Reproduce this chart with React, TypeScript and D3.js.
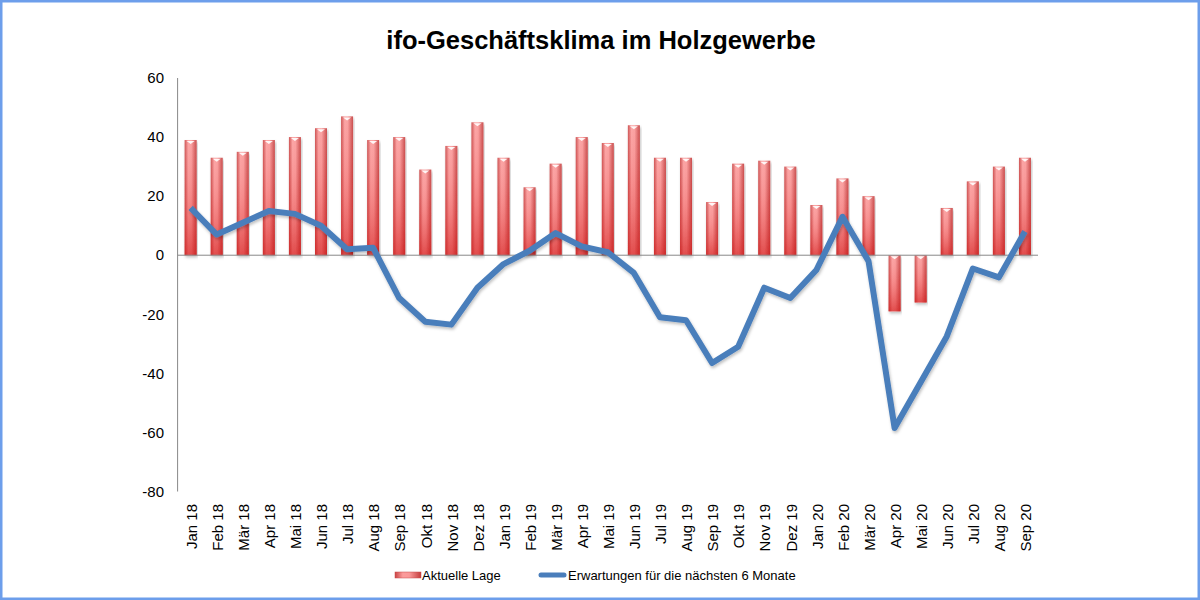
import * as d3 from 'd3';
import React, { useEffect } from 'react';

const months = [
  'Jan 18', 'Feb 18', 'Mär 18', 'Apr 18', 'Mai 18', 'Jun 18', 'Jul 18', 'Aug 18', 'Sep 18', 'Okt 18', 'Nov 18', 'Dez 18',
  'Jan 19', 'Feb 19', 'Mär 19', 'Apr 19', 'Mai 19', 'Jun 19', 'Jul 19', 'Aug 19', 'Sep 19', 'Okt 19', 'Nov 19', 'Dez 19',
  'Jan 20', 'Feb 20', 'Mär 20', 'Apr 20', 'Mai 20', 'Jun 20', 'Jul 20', 'Aug 20', 'Sep 20',
];

// Aktuelle Lage (bars)
const lage = [
  39, 33, 35, 39, 40, 43, 47, 39, 40, 29, 37, 45,
  33, 23, 31, 40, 38, 44, 33, 33, 18, 31, 32, 30,
  17, 26, 20, -19, -16, 16, 25, 30, 33,
];

// Erwartungen für die nächsten 6 Monate (line)
const erwartungen = [
  16, 7, 11, 15, 14, 10, 2, 2.5, -14.5, -22.5, -23.5, -11,
  -3, 1.5, 7.5, 3, 1, -6, -21, -22, -36.5, -31, -11, -14.5,
  -5, 13, -2, -58.5, -43, -27.5, -4.5, -7.5, 8,
];

const yTicks = [60, 40, 20, 0, -20, -40, -60, -80];

const title = 'ifo-Geschäftsklima im Holzgewerbe';
const legendLabels = ['Aktuelle Lage', 'Erwartungen für die nächsten 6 Monate'];

export default function App() {
  const ref = React.useRef<SVGSVGElement>(null);

  useEffect(() => {
    if (!ref.current) return;
    const svg = d3.select(ref.current);
    svg.selectAll('*').remove();

    const width = 1200;
    const height = 600;
    const font = 'Liberation Sans, Arial, sans-serif';

    const x = d3
      .scaleBand()
      .domain(months)
      .range([177.6, 1038])
      .paddingInner(0.54)
      .paddingOuter(0.27);
    const y = d3.scaleLinear().domain([-80, 60]).range([491.5, 78]);

    const defs = svg.append('defs');
    const hGrad = defs
      .append('linearGradient')
      .attr('id', 'barH')
      .attr('x1', '0')
      .attr('x2', '1')
      .attr('y1', '0')
      .attr('y2', '0');
    hGrad.append('stop').attr('offset', '0%').attr('stop-color', '#c94444');
    hGrad.append('stop').attr('offset', '30%').attr('stop-color', '#fb9c9c');
    hGrad.append('stop').attr('offset', '55%').attr('stop-color', '#fa9898');
    hGrad.append('stop').attr('offset', '100%').attr('stop-color', '#c43c3c');

    const vGrad = defs
      .append('linearGradient')
      .attr('id', 'barV')
      .attr('x1', '0')
      .attr('x2', '0')
      .attr('y1', '0')
      .attr('y2', '1');
    vGrad.append('stop').attr('offset', '0%').attr('stop-color', '#ffffff').attr('stop-opacity', 0.1);
    vGrad.append('stop').attr('offset', '45%').attr('stop-color', '#e04040').attr('stop-opacity', 0.15);
    vGrad.append('stop').attr('offset', '100%').attr('stop-color', '#d01818').attr('stop-opacity', 0.6);

    const shadow = defs
      .append('filter')
      .attr('id', 'shadow')
      .attr('x', '-10%')
      .attr('y', '-10%')
      .attr('width', '120%')
      .attr('height', '130%');
    shadow
      .append('feDropShadow')
      .attr('dx', 1)
      .attr('dy', 2)
      .attr('stdDeviation', 1.5)
      .attr('flood-color', '#000')
      .attr('flood-opacity', 0.25);

    // frame
    svg
      .append('rect')
      .attr('x', 1.25)
      .attr('y', 1.25)
      .attr('width', width - 2.5)
      .attr('height', height - 2.5)
      .attr('fill', '#fff')
      .attr('stroke', '#6d9eeb')
      .attr('stroke-width', 2.5);

    // title
    svg
      .append('text')
      .attr('x', 601)
      .attr('y', 49)
      .attr('text-anchor', 'middle')
      .style('font-family', font)
      .style('font-weight', 'bold')
      .style('font-size', '25.5px')
      .attr('fill', '#000')
      .text(title);

    // y axis
    svg
      .append('line')
      .attr('x1', 177.6)
      .attr('x2', 177.6)
      .attr('y1', y(60))
      .attr('y2', y(-80))
      .attr('stroke', '#888')
      .attr('stroke-width', 1);

    svg
      .selectAll('text.ytick')
      .data(yTicks)
      .enter()
      .append('text')
      .attr('class', 'ytick')
      .attr('x', 164)
      .attr('y', d => y(d))
      .attr('dy', '0.35em')
      .attr('text-anchor', 'end')
      .style('font-family', font)
      .style('font-size', '15px')
      .attr('fill', '#000')
      .text(d => d);

    // bars
    const bars = svg
      .selectAll('g.bar')
      .data(months.map((m, i) => ({ m, v: lage[i] })))
      .enter()
      .append('g')
      .attr('class', 'bar')
      .attr('filter', 'url(#shadow)');
    bars
      .append('rect')
      .attr('x', d => x(d.m) ?? 0)
      .attr('y', d => y(Math.max(0, d.v)))
      .attr('width', x.bandwidth())
      .attr('height', d => Math.abs(y(d.v) - y(0)))
      .attr('fill', 'url(#barH)');
    bars
      .append('rect')
      .attr('x', d => x(d.m) ?? 0)
      .attr('y', d => y(Math.max(0, d.v)))
      .attr('width', x.bandwidth())
      .attr('height', d => Math.abs(y(d.v) - y(0)))
      .attr('fill', 'url(#barV)');
    bars
      .append('path')
      .attr('d', d => {
        const x0 = (x(d.m) ?? 0) + 2;
        const w = x.bandwidth() - 4;
        const yt = y(Math.max(0, d.v)) + 1;
        return `M${x0},${yt} L${x0 + w},${yt} L${x0 + w / 2},${yt + 3} Z`;
      })
      .attr('fill', '#fff')
      .attr('opacity', 0.9);

    // zero line
    svg
      .append('line')
      .attr('x1', 177.6)
      .attr('x2', 1038)
      .attr('y1', y(0))
      .attr('y2', y(0))
      .attr('stroke', '#888')
      .attr('stroke-width', 1);

    // line
    const line = d3
      .line<number>()
      .x((_, i) => (x(months[i]) ?? 0) + x.bandwidth() / 2)
      .y(d => y(d));
    svg
      .append('path')
      .datum(erwartungen)
      .attr('d', line)
      .attr('fill', 'none')
      .attr('stroke', '#4a7ebb')
      .attr('stroke-width', 6)
      .attr('stroke-linejoin', 'round')
      .attr('filter', 'url(#shadow)');

    // x labels
    svg
      .selectAll('text.xtick')
      .data(months)
      .enter()
      .append('text')
      .attr('class', 'xtick')
      .attr('transform', d => `translate(${(x(d) ?? 0) + x.bandwidth() / 2 + 1},504) rotate(-90)`)
      .attr('text-anchor', 'end')
      .attr('dy', '0.35em')
      .style('font-family', font)
      .style('font-size', '15px')
      .attr('fill', '#000')
      .text(d => d);

    // legend
    const lg = svg.append('g').style('font-family', font).style('font-size', '13px');
    lg.append('rect')
      .attr('x', 395)
      .attr('y', 572)
      .attr('width', 26)
      .attr('height', 6)
      .attr('fill', 'url(#barH)')
      .attr('stroke', '#c84848')
      .attr('stroke-width', 0.5);
    lg.append('text').attr('x', 422).attr('y', 575).attr('dy', '0.35em').text(legendLabels[0]);
    lg.append('line')
      .attr('x1', 541)
      .attr('x2', 564)
      .attr('y1', 575)
      .attr('y2', 575)
      .attr('stroke', '#4a7ebb')
      .attr('stroke-width', 5)
      .attr('stroke-linecap', 'round');
    lg.append('text').attr('x', 568).attr('y', 575).attr('dy', '0.35em').text(legendLabels[1]);
  }, []);

  return (
    <svg
      ref={ref}
      width={1200}
      height={600}
      style={{ display: 'block', position: 'absolute', left: 0, top: 0 }}
    />
  );
}
